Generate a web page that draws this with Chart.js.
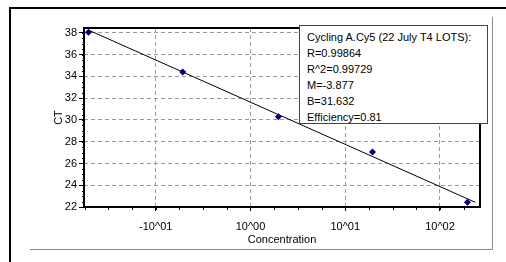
<!DOCTYPE html>
<html>
<head>
<meta charset="utf-8">
<script src="https://cdn.jsdelivr.net/npm/chart.js@4.4.1/dist/chart.umd.min.js"></script>
<style>
    html, body { margin: 0; padding: 0; background: #fff; }
    #wrap { position: relative; width: 506px; height: 262px; overflow: hidden; font-family: "Liberation Sans", Arial, sans-serif; }
    #std-curve { position: absolute; left: 0; top: 0; display: block; }
    .edge { position: absolute; }
    #stats {
        position: absolute; left: 299px; top: 25px; width: 180px; height: 90px;
        padding: 3px 0 4px 7px; border: 1px solid #444; background: #fff;
        font-size: 11px; line-height: 16px; color: #000; white-space: nowrap;
    }
</style>
</head>
<body>
<div id="wrap">
    <canvas id="std-curve" width="506" height="262"></canvas>
    <!-- window frame around the plot -->
    <div class="edge" style="left:9px;top:7px;width:497px;height:2px;background:#000"></div>
    <div class="edge" style="left:9px;top:7px;width:2px;height:255px;background:#000"></div>
    <div class="edge" style="left:492px;top:17px;width:1px;height:233px;background:#8a8a8a"></div>
    <div class="edge" style="left:30px;top:249px;width:463px;height:1px;background:#8a8a8a"></div>
    <div id="stats"></div>
</div>
<script>
// standard curve points (concentration, CT)
const concentrations = [0.0195, 0.193, 1.97, 19.4, 195];
const ctValues = [38.06, 34.40, 30.30, 27.06, 22.44];

// regression line ends
const fitConc = [0.02, 236];
const fitCt = [38.22, 22.43];

const xTickValues = [0.1, 1, 10, 100];
const xTickLabels = ['-10^01', '10^00', '10^01', '10^02'];
const yTickValues = [22, 24, 26, 28, 30, 32, 34, 36, 38];

const statsLines = [
    'Cycling A.Cy5 (22 July T4 LOTS):',
    'R=0.99864',
    'R^2=0.99729',
    'M=-3.877',
    'B=31.632',
    'Efficiency=0.81'
];

document.getElementById('stats').innerHTML = statsLines.map(s => '<div>' + s + '</div>').join('');

const FONT = { family: '"Liberation Sans", Arial, sans-serif', size: 11 };

// plot frame plus the small unlabelled ticks
const frameAndMinorTicks = {
    id: 'frameAndMinorTicks',
    beforeDatasetsDraw(chart) {
        const { ctx, chartArea: a, scales: { x, y } } = chart;
        ctx.save();
        ctx.strokeStyle = '#000';
        ctx.lineWidth = 1;
        ctx.beginPath();
        for (let e = -1.75; e <= 2.5; e += 0.25) {
            const px = Math.round(x.getPixelForValue(Math.pow(10, e))) + 0.5;
            if (px <= a.left + 1 || px >= a.right - 1) continue;
            ctx.moveTo(px, a.bottom);
            ctx.lineTo(px, a.bottom + 3);
        }
        for (let v = 22.5; v < 38.5; v += 0.5) {
            const py = Math.round(y.getPixelForValue(v)) + 0.5;
            ctx.moveTo(a.left, py);
            ctx.lineTo(a.left - 2, py);
        }
        ctx.stroke();
        ctx.lineWidth = 2;
        ctx.strokeRect(a.left, a.top, a.right - a.left, a.bottom - a.top);
        ctx.restore();
    }
};

function setupChart() {
    const canvas = document.getElementById('std-curve');
    const ctx = canvas.getContext('2d');
    const config = {
        type: 'scatter',
        data: {
            datasets: [{
                label: 'samples',
                data: concentrations.map((c, i) => ({ x: c, y: ctValues[i] })),
                pointStyle: 'rectRot',
                pointRadius: 3.5,
                backgroundColor: '#000080',
                borderColor: '#000080',
                borderWidth: 0,
                showLine: false
            }, {
                label: 'fit',
                data: fitConc.map((c, i) => ({ x: c, y: fitCt[i] })),
                showLine: true,
                pointRadius: 0,
                borderColor: '#000',
                borderWidth: 1
            }]
        },
        options: {
            responsive: false,
            animation: false,
            devicePixelRatio: 1,
            layout: { padding: { left: 0, top: 28, right: 26, bottom: 0 } },
            plugins: { legend: { display: false }, tooltip: { enabled: false } },
            scales: {
                x: {
                    type: 'logarithmic',
                    min: 0.0175,
                    max: 264.5,
                    afterBuildTicks: s => { s.ticks = xTickValues.map(v => ({ value: v })); },
                    afterFit: s => { s.height = 55; },
                    ticks: {
                        autoSkip: false, maxRotation: 0, padding: 9, color: '#000', font: FONT,
                        callback: (v, i) => xTickLabels[i]
                    },
                    grid: { color: '#9a9a9a', tickColor: '#000', tickLength: 4, lineWidth: 1 },
                    border: { display: false, dash: [4, 3] },
                    title: { display: true, text: 'Concentration', color: '#000', font: FONT, padding: { top: 0, bottom: 15 } }
                },
                y: {
                    type: 'linear',
                    min: 22,
                    max: 38.45,
                    afterBuildTicks: s => { s.ticks = yTickValues.map(v => ({ value: v })); },
                    afterFit: s => { s.width = 84; },
                    ticks: { autoSkip: false, padding: 2, color: '#000', font: FONT },
                    grid: { color: '#9a9a9a', tickColor: '#000', tickLength: 5, lineWidth: 1 },
                    border: { display: false, dash: [4, 3] },
                    title: { display: true, text: 'CT', color: '#000', font: FONT, padding: { top: 52, bottom: 0 } }
                }
            }
        },
        plugins: [frameAndMinorTicks]
    };
    return new Chart(ctx, config);
}

setupChart();
</script>
</body>
</html>
